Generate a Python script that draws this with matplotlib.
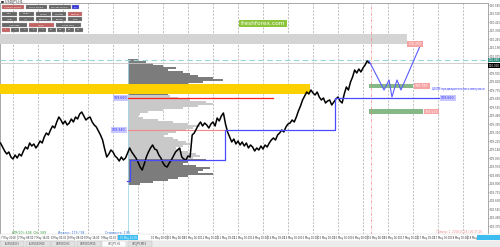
import numpy as np
import matplotlib.pyplot as plt
from matplotlib.patches import Rectangle
from matplotlib.ticker import MultipleLocator, FuncFormatter

W, H = 500, 247

# USDJPY H1 close, bar index starts at -6
close = [109.21, 109.17, 109.13, 109.10, 109.12, 109.07, 109.05, 109.09, 109.06, 109.10,
         109.08, 109.13, 109.17, 109.15, 109.21, 109.18, 109.20, 109.16, 109.19, 109.23,
         109.21, 109.27, 109.31, 109.29, 109.34, 109.38, 109.36, 109.42, 109.47, 109.44,
         109.40, 109.43, 109.39, 109.41, 109.45, 109.42, 109.47, 109.45, 109.50, 109.52,
         109.48, 109.44, 109.46, 109.47, 109.42, 109.39, 109.37, 109.33, 109.29, 109.24,
         109.15, 109.07, 109.10, 109.14, 109.12, 109.08, 109.06, 109.03, 109.07, 109.04,
         109.06, 109.11, 109.16, 109.12, 109.09, 109.06, 109.02, 108.97, 108.94, 109.00,
         109.07, 109.12, 109.16, 109.19, 109.15, 109.14, 109.09, 109.06, 109.01, 108.98,
         108.97, 109.01, 109.04, 109.08, 109.12, 109.14, 109.16, 109.07, 109.05, 109.04,
         109.08, 109.07, 109.29, 109.31, 109.35, 109.39, 109.42, 109.38, 109.41, 109.39,
         109.36, 109.40, 109.42, 109.38, 109.46, 109.43, 109.48, 109.51, 109.40, 109.32,
         109.27, 109.22, 109.25, 109.20, 109.23, 109.19, 109.22, 109.18, 109.21, 109.16,
         109.19, 109.17, 109.13, 109.16, 109.14, 109.18, 109.15, 109.19, 109.17, 109.21,
         109.24, 109.26, 109.24, 109.29, 109.31, 109.34, 109.32, 109.37, 109.40, 109.41,
         109.44, 109.42, 109.47, 109.53, 109.58, 109.64, 109.68, 109.72, 109.70, 109.74,
         109.71, 109.69, 109.72, 109.67, 109.64, 109.66, 109.61, 109.63, 109.64, 109.59,
         109.62, 109.65, 109.67, 109.63, 109.61, 109.70, 109.77, 109.74, 109.82, 109.87,
         109.94, 109.91, 109.95, 109.92, 109.96, 109.99, 110.03, 110.01]
first_bar = -6

# volume profile (top level 110.04, step 0.02)
vp_top = 110.04
vp_step = 0.02
vp_vol = [10, 18, 25, 35, 48, 40, 55, 62, 70, 85, 95, 75, 60, 55, 48, 52, 45, 40, 42, 50,
          62, 78, 85, 70, 55, 35, 20, 12, 10, 15, 30, 45, 60, 72, 65, 58, 48, 40, 35, 45,
          50, 58, 62, 55, 48, 52, 60, 68, 72, 65, 78, 60, 55, 68, 82, 75, 70, 85, 60, 50,
          40, 25, 12]
vp_start = 55.2
va_high, va_low = 109.69, 109.05

# levels / zones
gray_zone = (110.20, 110.30)
yellow_zone = (109.70, 109.80)
green_hi = (109.76, 109.80)
green_lo = (109.50, 109.55)
red_level = 109.66
red_level2 = 109.34
bid, ask = 110.04, 110.01

# blue step line (profile POC shifts) and projection path
step_x = [54.7, 56.2, 56.2, 101.8, 101.8, 154.6, 154.6, 205.0]
step_y = [108.83, 108.83, 109.04, 109.04, 109.34, 109.34, 109.66, 109.66]
proj_x = [170.9, 178.1, 180.5, 181.9, 184.3, 186.2, 195.8]
proj_y = [110.03, 109.74, 109.84, 109.67, 109.84, 109.74, 110.20]

time_labels = ["7 May 2018", "7 May 08:00", "7 May 16:00", "8 May 00:00", "8 May 08:00",
               "8 May 16:00", "9 May 00:00", "9 May 08:00", "9 May 16:00", "10 May 00:00",
               "10 May 08:00", "10 May 16:00", "11 May 00:00", "11 May 08:00", "11 May 16:00",
               "14 May 00:00", "14 May 08:00", "14 May 16:00", "15 May 00:00", "15 May 08:00",
               "15 May 16:00", "16 May 00:00", "16 May 08:00", "16 May 16:00", "17 May 00:00",
               "17 May 08:00", "17 May 16:00", "18 May 00:00", "18 May 08:00"]
tabs = ["EURUSD,H1", "EURUSD,M15", "GBPUSD,H1", "GBPUSD,M15", "USDJPY,H1", "USDJPY,M15"]

fig = plt.figure(figsize=(5, 2.47), dpi=100)
fig.patch.set_facecolor('white')


def fbox(x0, y0, x1, y1, fc, ec='none', lw=0.3, z=5):
    r = Rectangle((x0 / W, 1 - y1 / H), (x1 - x0) / W, (y1 - y0) / H,
                  transform=fig.transFigure, fc=fc, ec=ec, lw=lw, zorder=z)
    fig.add_artist(r)


ax = fig.add_axes([0, 13 / H, 488 / W, 231 / H])
ax.set_xlim(-6.24, 228)
ax.set_ylim(108.30, 110.61)

# grid
for gx in range(0, 228, 12):
    ax.axvline(gx, color='#a8a8a8', lw=0.5, ls=(0, (3, 2)), zorder=1)

# volume profile
levels = [vp_top - k * vp_step for k in range(len(vp_vol))]
cols = ['#7c7c7c' if (p > va_high or p < va_low) else '#c9c9c9' for p in levels]
ax.barh(levels, np.array(vp_vol) * 0.48, left=vp_start, height=vp_step * 0.7,
        color=cols, zorder=2)
ax.axvline(vp_start, ymin=0.0, ymax=(110.04 - 108.30) / 2.31, color='#9fd8e8', lw=0.6, zorder=2)

# zones
ax.fill_between([-6.3, 189.1], *gray_zone, color='#d4d4d4', lw=0, zorder=3)
ax.fill_between([-6.3, 142.6], *yellow_zone, color='#fdd000', lw=0, zorder=3)
ax.fill_between([170.9, 192.0], *green_hi, color='#86b886', lw=0, zorder=3)
ax.fill_between([170.9, 196.8], *green_lo, color='#86b886', lw=0, zorder=3)
ax.plot([55.2, 124.8], [red_level, red_level], color='#ff2020', lw=0.9, zorder=3)
ax.plot([55.2, 102.7], [red_level2, red_level2], color='#f08a8a', lw=0.8, zorder=3)

# current price lines
ax.axhline(bid, color='#9ad6d6', lw=0.8, ls=(0, (5, 3)), zorder=3)
ax.axhline(ask, color='#c8c8c8', lw=0.6, zorder=3)
ax.axvline(171.8, color='#f08080', lw=0.5, ls=(0, (4, 2, 1, 2)), zorder=3)

# price
bars = np.arange(len(close)) + first_bar
ax.plot(bars, close, color='black', lw=1.1, zorder=4)

# blue lines
ax.plot(step_x, step_y, color='#4a4aff', lw=0.9, zorder=5)
ax.plot(proj_x, proj_y, color='#5a5aff', lw=0.8, zorder=5)

# labels on the chart
pink = dict(boxstyle='square,pad=0.25', fc='#f6a3a3', ec='none')
lblue = dict(boxstyle='square,pad=0.25', fc='#c8c8ff', ec='none')
ax.text(189.7, 110.20, '110.200', fontsize=2.3, color='white', va='center', bbox=pink, zorder=6)
ax.text(193.0, 109.78, '109.780', fontsize=2.3, color='white', va='center', bbox=pink, zorder=6)
ax.text(197.5, 109.525, '109.525', fontsize=2.3, color='white', va='center', bbox=pink, zorder=6)
ax.text(48.2, red_level, '109.660', fontsize=2.3, color='#3030ff', va='center', bbox=lblue, zorder=6)
ax.text(47.6, red_level2, '109.340', fontsize=2.3, color='#3030ff', va='center', bbox=lblue, zorder=6)
ax.text(205.5, 109.66, '109.660', fontsize=2.3, color='#3030ff', va='center', bbox=lblue, zorder=6)
ax.text(201.0, 109.75, 'ЦЕЛИ предварительного импульса', fontsize=2.1, color='#3030ff',
        va='center', zorder=6)

# axes styling
for s in ax.spines.values():
    s.set_color('#9a9a9a')
    s.set_linewidth(0.6)
ax.yaxis.tick_right()
ax.yaxis.set_major_locator(MultipleLocator(0.085))
# price scale labels, hidden where the bid/ask tags sit
ax.yaxis.set_major_formatter(FuncFormatter(
    lambda v, pos: '' if ask - 0.05 < v < bid + 0.03 else f'{v:.3f}'))
ax.tick_params(axis='y', labelsize=2.0, length=1.0, width=0.4, pad=0.5, colors='#555555')
ax.set_xticks([])

# bid / ask tags on the price scale
ax.text(228.3, bid, '110.040', fontsize=2.0, color='white', va='center',
        bbox=dict(boxstyle='square,pad=0.15', fc='#2e8f7e', ec='none'), clip_on=False, zorder=7)
ax.text(228.3, ask - 0.025, '110.010', fontsize=2.0, color='white', va='center',
        bbox=dict(boxstyle='square,pad=0.15', fc='black', ec='none'), clip_on=False, zorder=7)

# title and control panel
fig.text(1 / W, 1 - 2.5 / H, '■ USDJPY,H1', fontsize=2.3, color='#333333', va='center')
panel = [
    (5, 9, ["Volume Profile", "Time Profile", "Market Profile", "1:1"], [22, 21, 22, 7], 0),
    (12, 16, ["Day", "Week", "Month", "Quarter", "Custom"], [15, 15, 15, 14, 14], 4),
    (17, 21, ["Year", "ALL", "Current", "Range", "Lock"], [15, 15, 15, 14, 14], -1),
    (23, 27, ["Left Side", "Open", "Right Side"], [25, 25, 25], 1),
    (28, 32, ["1", "2", "3", "5", "7", "10", "15", "20", "33"], [8] * 9, 0),
]
for y0, y1, names, widths, active in panel:
    x = 2
    for k, (nm, w) in enumerate(zip(names, widths)):
        fc = '#c46262' if k == active else '#666666'
        if nm == "1:1":
            fc = '#3a3ad8'
        fbox(x, y0, x + w, y1, fc, ec='#bbbbbb', lw=0.2, z=8)
        fig.text((x + w / 2) / W, 1 - (y0 + y1) / 2 / H, nm, fontsize=1.7, color='white',
                 ha='center', va='center', zorder=9)
        x += w + (1.8 if len(names) < 9 else 1.1)

# watermark
fig.text(263 / W, 1 - 23.5 / H, 'freshforex.com', fontsize=4.2, color='white', ha='center',
         va='center', zorder=9,
         bbox=dict(boxstyle='square,pad=0.25', fc='#8cc43c', ec='none'))

# status texts
fig.text(12 / W, 1 - 232.5 / H, 'ATR(20): 608  Chl: 589', fontsize=2.2, color='#2e9a2e', va='center')
fig.text(58 / W, 1 - 232.5 / H, 'Индекс: 179 / 98', fontsize=2.2, color='#2a6ad8', va='center')
fig.text(105 / W, 1 - 232.5 / H, 'Стоимость: 1.85', fontsize=2.2, color='#2a6ad8', va='center')
fig.text(436 / W, 1 - 232.5 / H, 'Таймер: 1  2018.05.18 / 00:37:28', fontsize=2.0,
         color='#f08a8a', va='center')

# time scale row
fbox(0, 234, 500, 240.5, 'white', ec='#cfcfcf', lw=0.3, z=6)
for k, lab in enumerate(time_labels):
    px = 1 + k * 16.67
    if 110 < px < 140 or px > 470:
        continue
    fig.text(px / W, 1 - 237.5 / H, lab, fontsize=1.8, color='#333333', va='center', zorder=7)
    fbox(px + 16.2, 234.5, px + 16.5, 240, '#d0d0d0', z=7)
fbox(118, 235, 138, 240, '#3cbcf0', z=8)
fig.text(128 / W, 1 - 237.5 / H, '10 May 22:00', fontsize=1.8, color='white', ha='center',
         va='center', zorder=9)
fbox(477, 235, 500, 240, '#3cbcf0', z=8)

# tabs
fbox(0, 240.5, 500, 247, '#ececec', z=6)
tx = 0
for k, t in enumerate(tabs):
    fc = 'white' if k == 4 else '#e2e2e2'
    fbox(tx, 241, tx + 24, 246.5, fc, ec='#b8b8b8', lw=0.3, z=7)
    fig.text((tx + 12) / W, 1 - 243.8 / H, t, fontsize=1.8, color='#444444', ha='center',
             va='center', zorder=8)
    tx += 25.5

fig.savefig('out.png', dpi=100)
